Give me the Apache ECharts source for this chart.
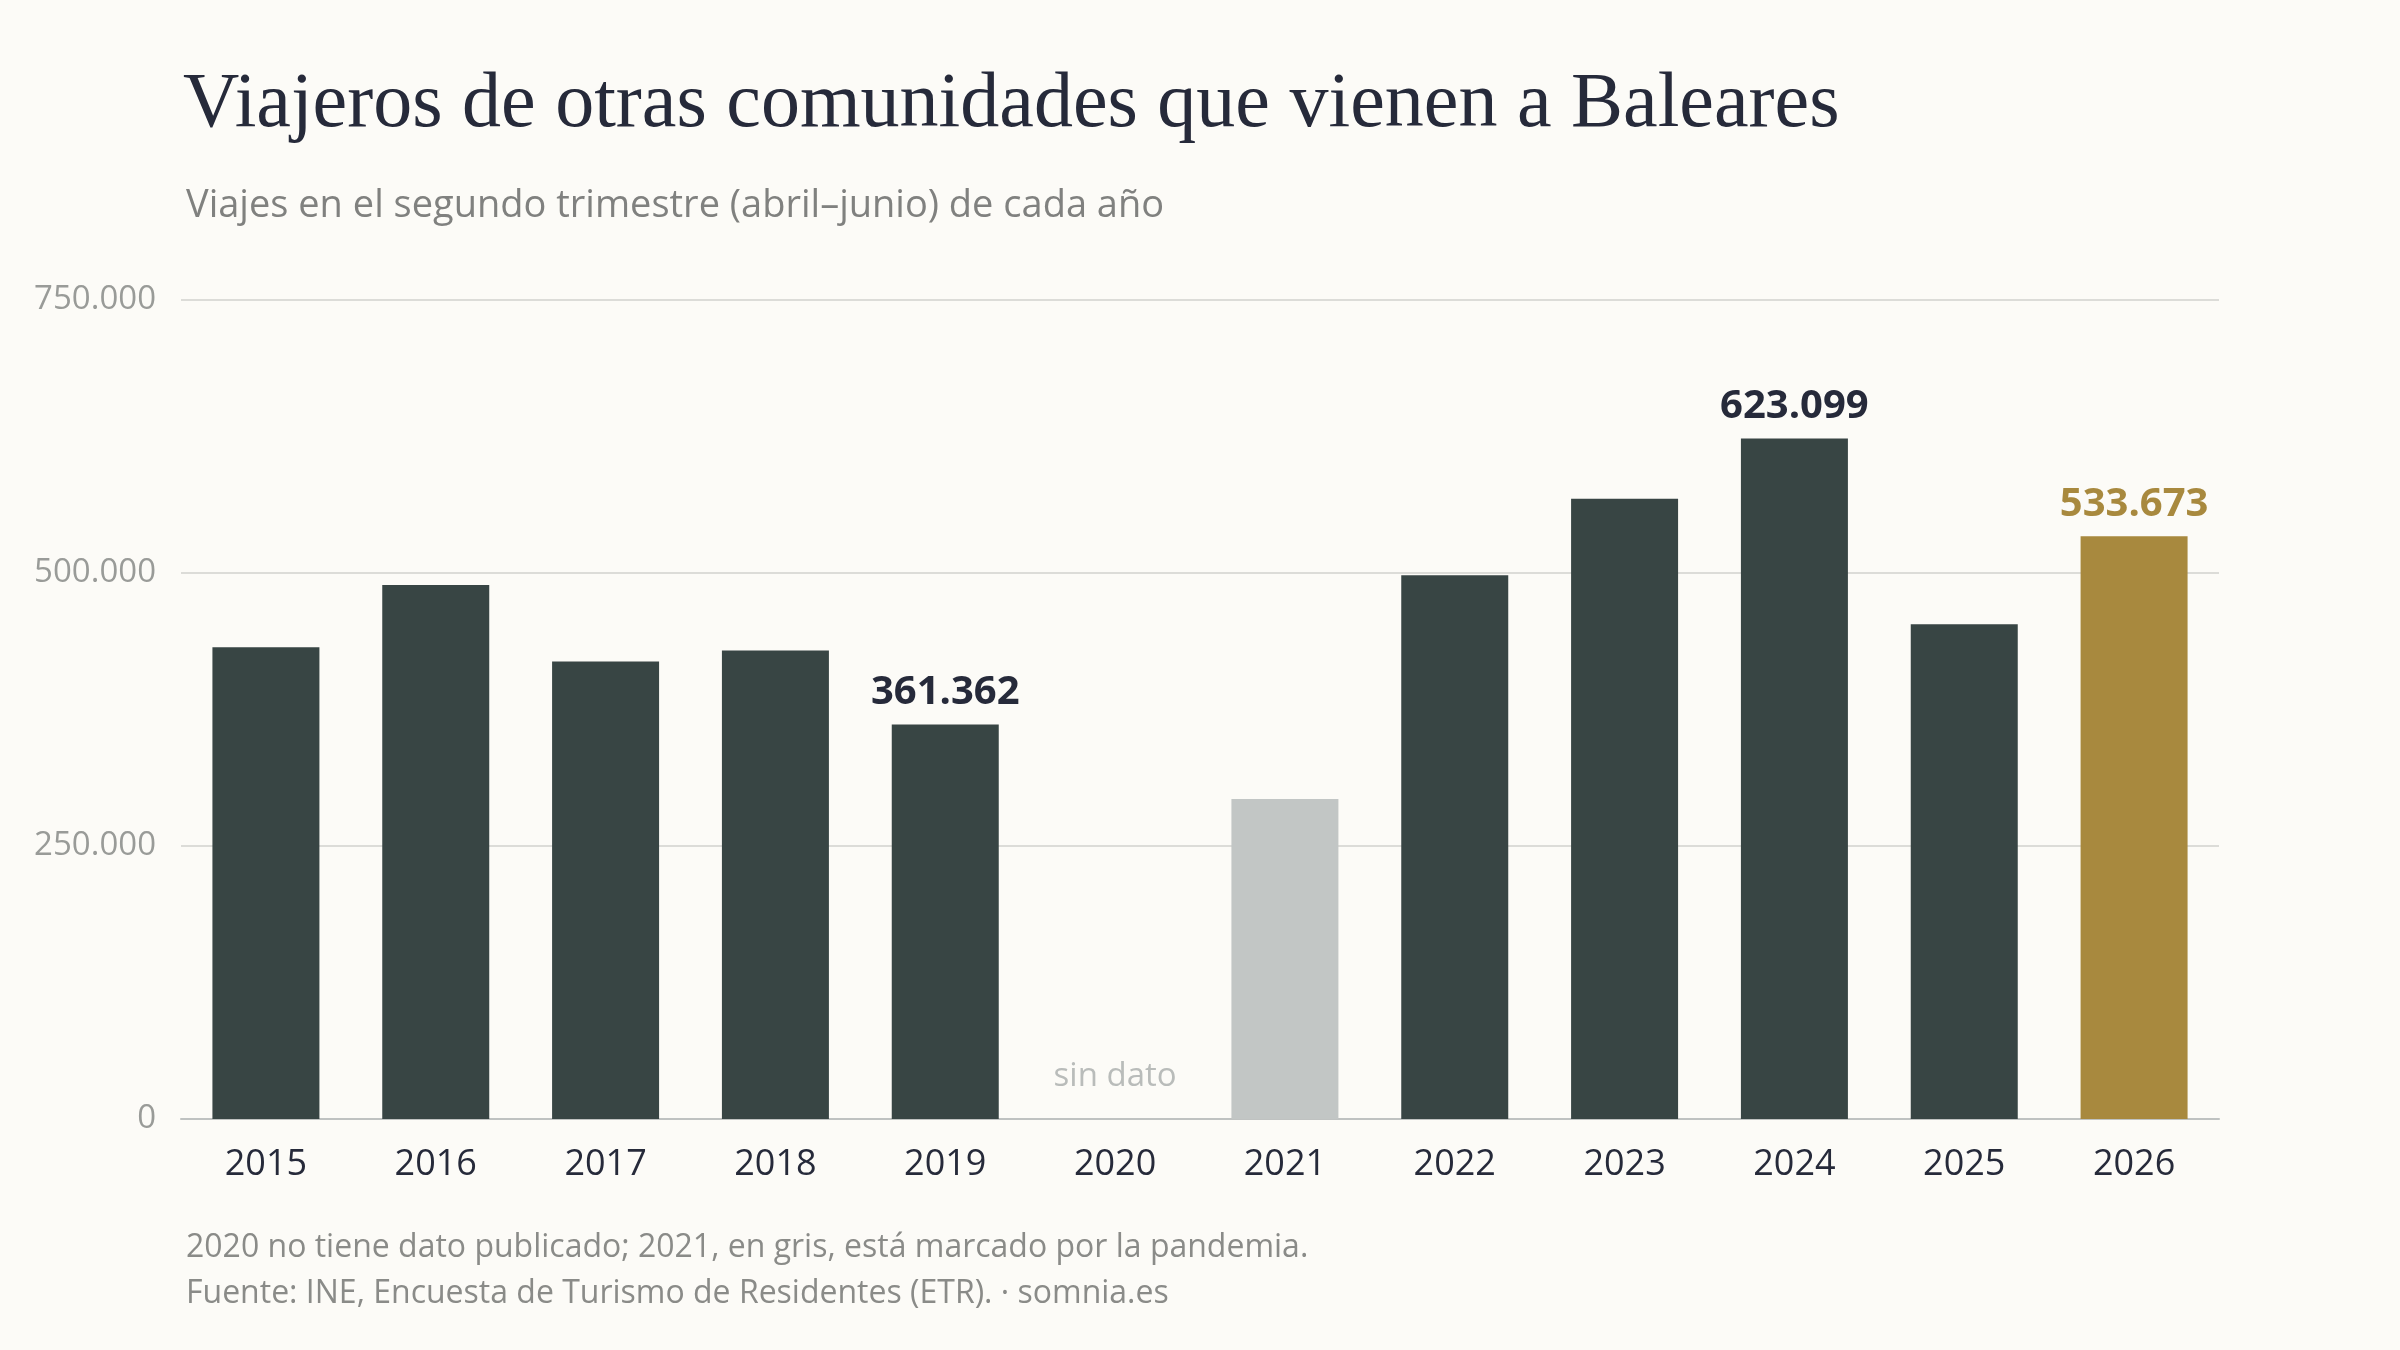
<!DOCTYPE html>
<html lang="es" style="height: 100%">
<head>
  <meta charset="utf-8">
</head>
<body style="height: 100%; margin: 0; background: #fcfbf7">
  <div id="container" style="height: 100%"></div>
  <script src="https://cdn.jsdelivr.net/npm/echarts@6/dist/echarts.min.js"></script>
  <script>
    const years = ['2015', '2016', '2017', '2018', '2019', '2020', '2021', '2022', '2023', '2024', '2025', '2026'];
    const viajeros = [432000, 489000, 419000, 429000, 361362, null, 293000, 498000, 568000, 623099, 453000, 533673];
    const labelled = ['2019', '2024', '2026'];
    const yTicks = [0, 250000, 500000, 750000];

    const fmt = v => v === 0 ? '0' : String(v).replace(/\B(?=(\d{3})+(?!\d))/g, '.');
    const sans = 'Open Sans';

    const data = viajeros.map((v, i) => {
      const y = years[i];
      let color = '#384544';
      if (y === '2021') color = '#c2c6c5';
      if (y === '2026') color = '#a8893e';
      return {
        value: v,
        itemStyle: { color },
        label: {
          show: labelled.includes(y),
          color: y === '2026' ? '#a8893e' : '#262a3a'
        }
      };
    });

    const chart = echarts.init(document.getElementById('container'), null, { renderer: 'canvas' });
    chart.setOption({
      backgroundColor: '#fcfbf7',
      animation: false,
      title: [
        {
          text: 'Viajeros de otras comunidades que vienen a Baleares',
          left: 178, top: 62,
          textStyle: { fontFamily: 'Liberation Serif', fontSize: 78, fontWeight: 'normal', color: '#262a3a' }
        },
        {
          text: 'Viajes en el segundo trimestre (abril–junio) de cada año',
          left: 181, top: 182,
          textStyle: { fontFamily: sans, fontSize: 38, fontWeight: 'normal', color: '#80817f' }
        },
        {
          text: '2020 no tiene dato publicado; 2021, en gris, está marcado por la pandemia.\nFuente: INE, Encuesta de Turismo de Residentes (ETR). · somnia.es',
          left: 181, top: 1220,
          textStyle: { fontFamily: sans, fontSize: 32, lineHeight: 46, fontWeight: 'normal', color: '#8a8b88' }
        }
      ],
      grid: { left: 181, right: 181, top: 300, bottom: 231 },
      xAxis: {
        type: 'category',
        data: years,
        axisTick: { show: false },
        axisLine: { lineStyle: { color: '#bfc2c1', width: 2 } },
        axisLabel: { fontFamily: sans, fontSize: 36, color: '#262a3a', margin: 28 }
      },
      yAxis: {
        type: 'value',
        min: yTicks[0], max: yTicks[yTicks.length - 1], interval: 250000,
        axisLabel: { fontFamily: sans, fontSize: 33, color: '#999b98', margin: 25, formatter: fmt },
        splitLine: { lineStyle: { color: '#dcdcd8', width: 2 } },
        axisLine: { show: false }, axisTick: { show: false }
      },
      series: [
        {
          type: 'bar',
          data,
          barCategoryGap: '37%',
          label: {
            position: 'top', distance: 12,
            fontFamily: sans, fontSize: 40, fontWeight: 'bold',
            formatter: p => fmt(p.value)
          }
        },
        {
          type: 'bar',
          barGap: '-100%',
          barCategoryGap: '37%',
          data: years.map(y => y === '2020' ? 0 : null),
          itemStyle: { color: 'transparent' },
          label: {
            show: true, position: 'top', distance: 26,
            fontFamily: sans, fontSize: 33, color: '#b9bcba',
            formatter: 'sin dato'
          },
          silent: true
        }
      ]
    });
    window.addEventListener('resize', chart.resize);
  </script>
</body>
</html>
